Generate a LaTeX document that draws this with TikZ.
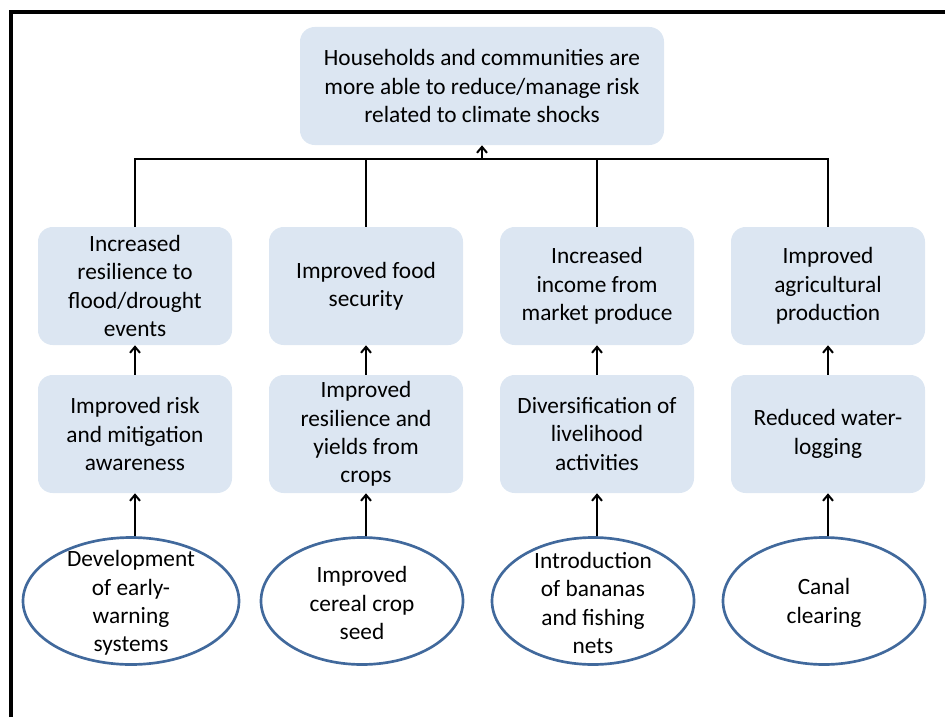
\documentclass[tikz,border=0pt]{standalone}
\usepackage{fontspec}
\setmainfont{Carlito}
\usepackage{tikz}
\usetikzlibrary{arrows.meta,positioning,shapes.geometric}
\definecolor{BoxFill}{HTML}{DCE6F2}
\definecolor{SeedEdge}{HTML}{41699C}

\begin{document}
\begin{tikzpicture}[
  x=0.75pt,y=-0.75pt,
  font=\fontsize{17.5pt}{21.2pt}\selectfont,
  goal/.style={rounded corners=11pt,fill=BoxFill,minimum width=273pt,minimum height=88.5pt,align=center},
  outcome/.style={rounded corners=11pt,fill=BoxFill,minimum width=145.5pt,minimum height=88.5pt,align=center},
  seed/.style={ellipse,draw=SeedEdge,line width=2pt,minimum width=151.5pt,minimum height=95.25pt,inner sep=0pt},
  seedtext/.style={align=center,yshift=-1.5pt},
  link/.style={line width=1.5pt},
  arrow/.style={-{Straight Barb[length=4.5pt,width=7.5pt]},line width=1.5pt}
]
\useasboundingbox (0,0) rectangle (945,717);
\draw[line width=3pt] (10.5,717) -- (10.5,12) -- (945,12);
\node[goal] (top) at (482,86) {Households and communities are\\more able to reduce/manage risk\\related to climate shocks};
\node[outcome] (o1) at (135,286) {Increased\\resilience to\\flood/drought\\events};
\node[outcome] (o2) at (366,286) {Improved food\\security};
\node[outcome] (o3) at (597,286) {Increased\\income from\\market produce};
\node[outcome] (o4) at (828,286) {Improved\\agricultural\\production};
\node[outcome] (m1) at (135,434) {Improved risk\\and mitigation\\awareness};
\node[outcome] (m2) at (366,434) {Improved\\resilience and\\yields from\\crops};
\node[outcome] (m3) at (597,434) {Diversification of\\livelihood\\activities};
\node[outcome] (m4) at (828,434) {Reduced water-\\logging};
\node[seed,minimum width=162pt,label={[seedtext]center:Development\\of early-\\warning\\systems}] (s1) at (131,601) {};
\node[seed,label={[seedtext]center:Improved\\cereal crop\\seed}] (s2) at (362,601) {};
\node[seed,label={[seedtext]center:Introduction\\of bananas\\and fishing\\nets}] (s3) at (593,601) {};
\node[seed,label={[seedtext]center:Canal\\clearing}] (s4) at (824,601) {};
\coordinate (bus) at (482,159);
\draw[link] (o1.north) |- (bus);
\draw[link] (o2.north) |- (bus);
\draw[link] (o3.north) |- (bus);
\draw[link] (o4.north) |- (bus);
\draw[arrow] (bus) -- (top);
\draw[arrow] (m1) -- (o1);
\draw[arrow] (m2) -- (o2);
\draw[arrow] (m3) -- (o3);
\draw[arrow] (m4) -- (o4);
\draw[arrow] (s1.north -| m1) -- (m1);
\draw[arrow] (s2.north -| m2) -- (m2);
\draw[arrow] (s3.north -| m3) -- (m3);
\draw[arrow] (s4.north -| m4) -- (m4);
\end{tikzpicture}
\end{document}
